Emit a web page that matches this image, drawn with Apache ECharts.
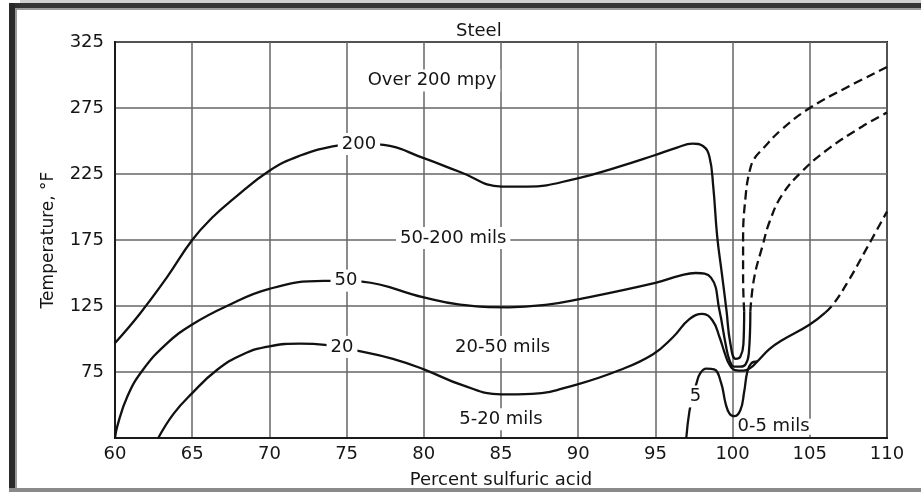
<!DOCTYPE html>
<html>
<head>
<meta charset="utf-8">
<script src="https://cdn.jsdelivr.net/npm/echarts@6/dist/echarts.min.js"></script>
<style>
html,body{margin:0;padding:0;background:#fff;}
#c{width:921px;height:494px;}
</style>
</head>
<body>
<div id="c"></div>
<script>
// Iso-corrosion curves for steel in sulfuric acid (x: percent H2SO4, y: temperature °F)
const curve200 = [[60,97],[61.6,119],[63.35,146.5],[65,175],[66.3,192],[67.65,206],[70,227.5],[72,239],[74.1,246],[75.7,248],[77.4,247],[80,237],[82.35,226.5],[85.05,215.5],[86.7,215.5],[89.9,221.5],[92.5,230],[94.9,239],[96.4,245],[97.4,248],[98.1,246],[98.5,238],[98.75,215],[99.0,178],[99.3,150],[99.6,122],[99.85,97],[100.2,85],[100.5,86.5],[100.7,96],[100.75,121]];
const curve200Dashed = [[100.75,121],[100.68,146],[100.68,176],[100.85,209],[101.1,227],[101.4,236.5],[101.95,244],[103.2,259],[105,275],[107.3,290],[110,306]];
const curve50 = [[60,25],[60.15,34],[60.8,56.5],[61.8,76.5],[63.35,96.5],[65,111],[67.25,125],[70,138],[73.5,144],[75,144],[76,143.5],[80,131.5],[82.35,126],[85.5,124],[88,126],[90,130],[95,142.5],[96.6,148],[97.6,150],[98.6,146.5],[99.15,121.5],[99.55,96],[99.8,84],[100.1,79],[100.5,79],[100.85,81],[101.05,89],[101.15,121]];
const curve50Dashed = [[101.15,121],[101.4,146.5],[101.95,171],[102.4,189],[103.2,209],[104.5,227],[106.2,244],[108.4,261],[110,271.5]];
const curve20 = [[62.8,25],[63.8,43.5],[65,59],[66.6,76.5],[68.3,88.5],[70,94.5],[72,96.5],[73.6,95.5],[75.75,91],[78,85],[80,77],[82.5,65],[85,58],[87,58.5],[89.9,65.5],[92.7,76.5],[94.85,88.5],[96.15,101.5],[97.2,115],[98.05,119],[98.7,114],[99.15,101.5],[99.5,89],[99.8,80.5],[100.15,76.5],[100.7,76],[101.2,78.5],[101.6,83],[102.4,92.5],[103.2,99],[105,111],[106,120]];
const curve20Dashed = [[106,120],[106.5,126],[107.5,144],[108.7,169],[110,196.5]];
const curve5 = [[97.0,25],[97.2,45],[97.45,58],[97.65,66],[97.9,74],[98.3,77.5],[98.8,77],[99.25,67],[99.55,51],[99.8,43.5],[100.1,41.5],[100.5,46],[100.75,60],[100.95,75],[101.2,81.5],[101.6,83]];

// Region / curve labels: [x, y, text]
const annotations = [
  [80.53, 295.75, 'Over 200 mpy'],
  [75.8, 247.7, '200'],
  [81.9, 176.5, '50-200 mils'],
  [74.96, 144.2, '50'],
  [74.7, 94, '20'],
  [85.1, 94, '20-50 mils'],
  [85.0, 39.2, '5-20 mils'],
  [97.6, 56.5, '5'],
  [102.65, 33.5, '0-5 mils']
];

const xMin = 60, xMax = 110, xStep = 5;
const yMin = 25, yMax = 325, yStep = 50;
const FONT = 'DejaVu Sans';
const INK = '#111';
const TXT = '#151515';

function lineSeries(data, dashed) {
  return {
    type: 'line', data: data, smooth: 0.45, showSymbol: false, symbol: 'none',
    clip: true, z: 3,
    lineStyle: { color: INK, width: 2.3, type: dashed ? [9, 5] : 'solid', cap: 'butt' }
  };
}

const labelItems = annotations.map(function (a) {
  const item = { value: a };
  if (a[1] < 36) item.label = { padding: [0, 3], lineHeight: 16 };
  return item;
});

const chart = echarts.init(document.getElementById('c'), null, { renderer: 'canvas' });
chart.setOption({
  animation: false,
  backgroundColor: '#fff',
  title: {
    text: 'Steel', left: 451, top: 17,
    textStyle: { fontFamily: FONT, fontSize: 18, fontWeight: 'normal', color: TXT }
  },
  grid: { left: 115, right: 34, top: 42, bottom: 52.5, show: true, borderColor: '#1a1a1a', borderWidth: 2, backgroundColor: 'transparent' },
  xAxis: {
    type: 'value', min: xMin, max: xMax, interval: xStep,
    name: 'Percent sulfuric acid', nameLocation: 'middle', nameGap: 33,
    nameTextStyle: { fontFamily: FONT, fontSize: 18, color: TXT },
    axisLine: { show: true, lineStyle: { color: '#1a1a1a', width: 2 } },
    axisTick: { show: false },
    axisLabel: { fontFamily: FONT, fontSize: 18, color: TXT, margin: 7 },
    splitLine: { show: true, lineStyle: { color: '#666', width: 1.5 } }
  },
  yAxis: {
    type: 'value', min: yMin, max: yMax, interval: yStep,
    name: 'Temperature, °F', nameLocation: 'middle', nameGap: 58, nameRotate: 90,
    nameTextStyle: { fontFamily: FONT, fontSize: 17, color: TXT },
    axisLine: { show: true, lineStyle: { color: '#1a1a1a', width: 2 } },
    axisTick: { show: false },
    axisLabel: { fontFamily: FONT, fontSize: 18, color: TXT, margin: 11,
      formatter: function (v) { return v === yMin ? '' : String(v); } },
    splitLine: { show: true, lineStyle: { color: '#666', width: 1.5 } }
  },
  graphic: [
    { type: 'rect', shape: { x: 9, y: 3, width: 912, height: 5 }, style: { fill: '#333' }, z: 100 },
    { type: 'rect', shape: { x: 9, y: 3, width: 6, height: 489 }, style: { fill: '#2a2a2a' }, z: 100 },
    { type: 'rect', shape: { x: 15, y: 8, width: 2, height: 480 }, style: { fill: '#9a9a9a' }, z: 100 },
    { type: 'rect', shape: { x: 15, y: 8, width: 906, height: 2 }, style: { fill: '#9a9a9a' }, z: 100 },
    { type: 'rect', shape: { x: 9, y: 488, width: 912, height: 4 }, style: { fill: '#8a8a8a' }, z: 100 },
    { type: 'rect', shape: { x: 20, y: 0, width: 901, height: 3 }, style: { fill: '#cfcfcf' }, z: 100 }
  ],
  series: [
    lineSeries(curve200, false),
    lineSeries(curve200Dashed, true),
    lineSeries(curve50, false),
    lineSeries(curve50Dashed, true),
    lineSeries(curve20, false),
    lineSeries(curve20Dashed, true),
    lineSeries(curve5, false),
    {
      type: 'scatter', data: labelItems, symbolSize: 0, z: 10, clip: false,
      itemStyle: { opacity: 1 },
      label: {
        show: true, position: 'inside', opacity: 1,
        formatter: function (p) { return p.value[2]; },
        fontFamily: FONT, fontSize: 18, color: TXT,
        backgroundColor: '#fff', padding: [2, 4]
      }
    }
  ]
});
</script>
</body>
</html>
